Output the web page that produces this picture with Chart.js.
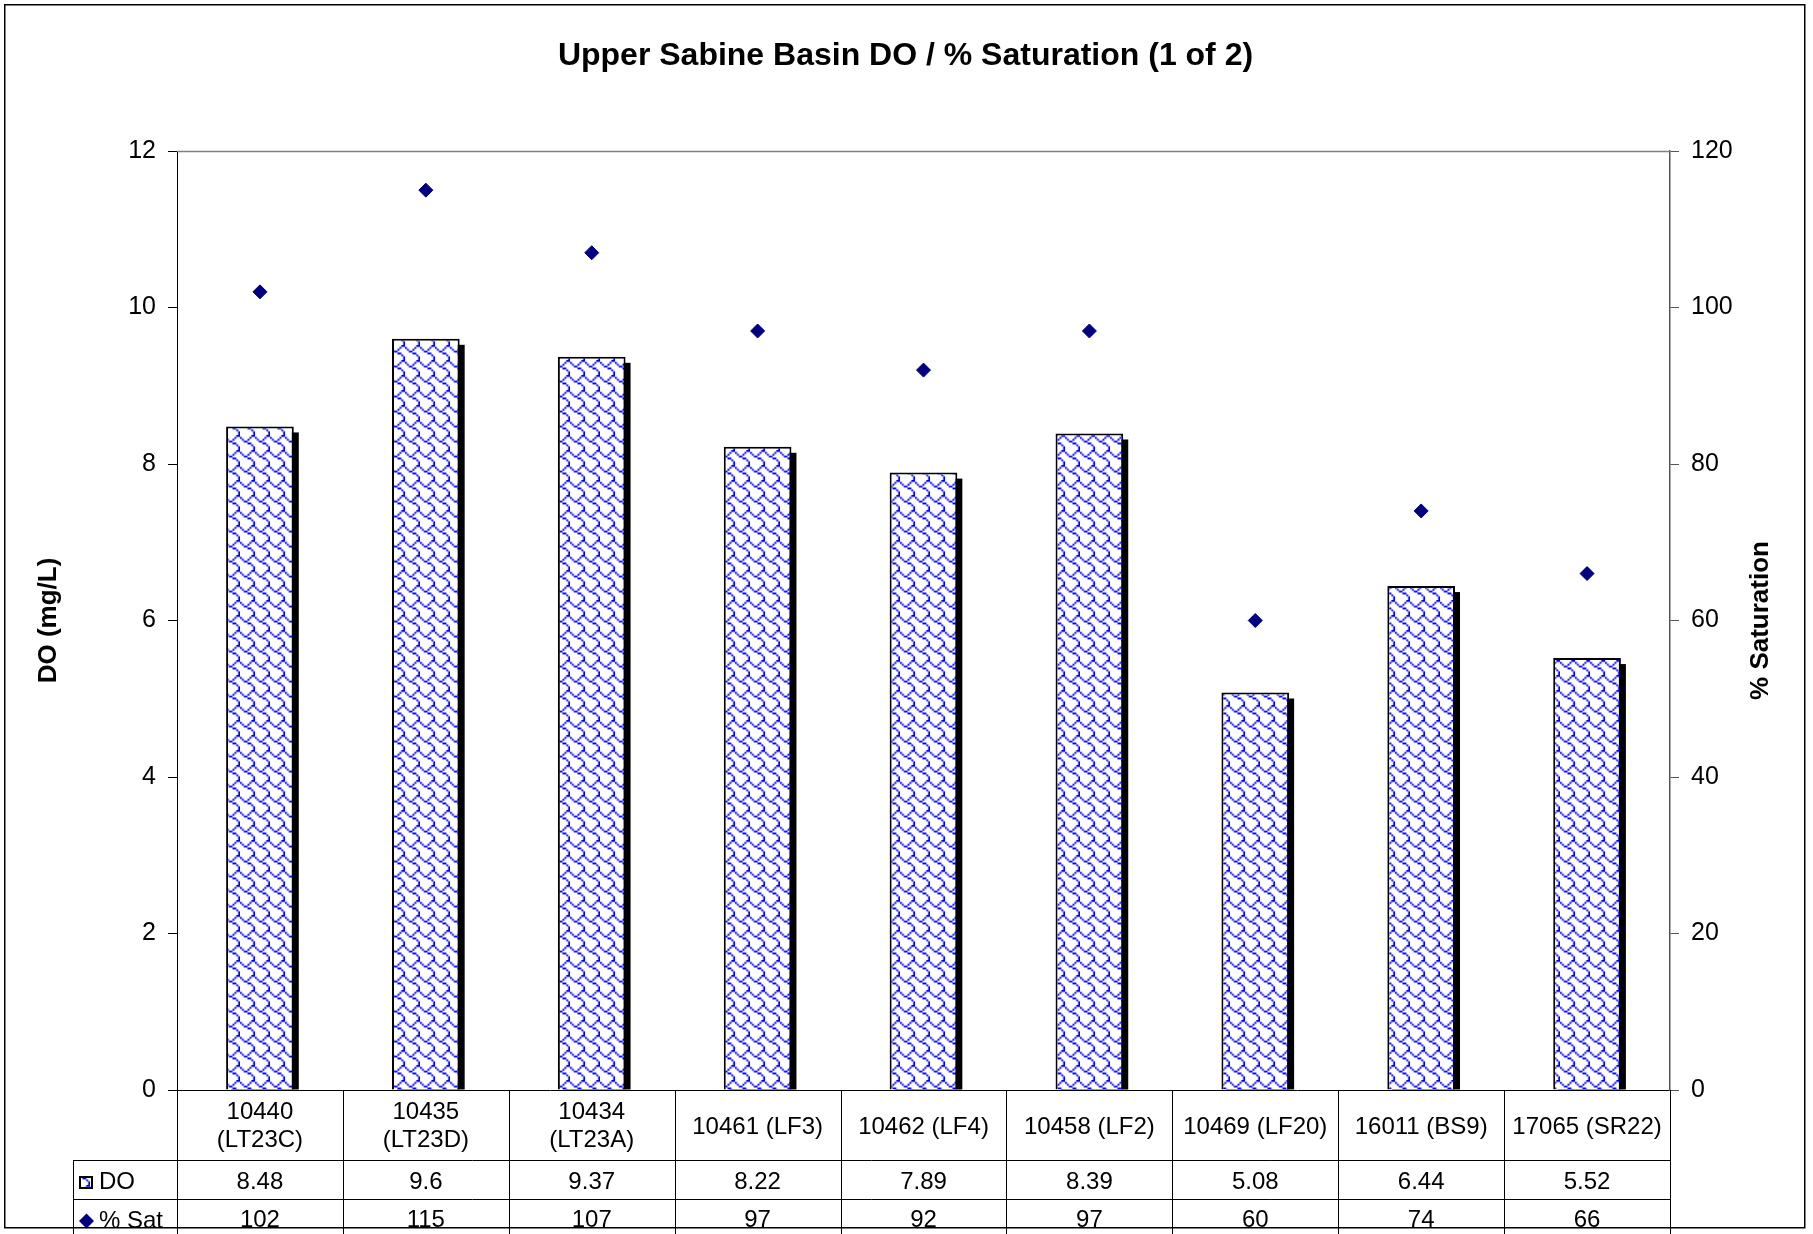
<!DOCTYPE html>
<html><head><meta charset="utf-8">
<script src="https://cdn.jsdelivr.net/npm/chart.js"></script>
<style>html,body{margin:0;padding:0;background:#fff;}canvas{display:block;}</style>
</head><body>
<canvas id="c" width="1813" height="1234"></canvas>
<script>
const chartTitle = 'Upper Sabine Basin DO / % Saturation (1 of 2)';
const leftAxisTitle = 'DO (mg/L)';
const rightAxisTitle = '% Saturation';
const categories = ['10440 (LT23C)','10435 (LT23D)','10434 (LT23A)','10461 (LF3)','10462 (LF4)','10458 (LF2)','10469 (LF20)','16011 (BS9)','17065 (SR22)'];
const seriesNames = ['DO', '% Sat'];
const doValues = [8.48, 9.6, 9.37, 8.22, 7.89, 8.39, 5.08, 6.44, 5.52];
const satValues = [102, 115, 107, 97, 92, 97, 60, 74, 66];
const doTicks = [0, 2, 4, 6, 8, 10, 12];
const satTicks = [0, 20, 40, 60, 80, 100, 120];

const FONT = "'Liberation Sans', Arial, sans-serif";
const canvas = document.getElementById('c');
const ctx = canvas.getContext('2d');

function makePattern(c2d) {
  const bits = [0x03, 0x84, 0x48, 0x30, 0x0c, 0x02, 0x01, 0x01];
  const small = document.createElement('canvas');
  small.width = 8; small.height = 8;
  const sg = small.getContext('2d');
  sg.fillStyle = '#fff'; sg.fillRect(0, 0, 8, 8);
  sg.fillStyle = '#0000ff';
  for (let r = 0; r < 8; r++) for (let k = 0; k < 8; k++) if ((bits[r] >> (7 - k)) & 1) sg.fillRect(k, r, 1, 1);
  const big = document.createElement('canvas');
  big.width = 15; big.height = 15;
  const bg = big.getContext('2d');
  bg.imageSmoothingEnabled = true;
  bg.drawImage(small, 0, 0, 15, 15);
  return c2d.createPattern(big, 'repeat');
}
const pattern = makePattern(ctx);

function wrapText(c, text, maxW) {
  if (c.measureText(text).width <= maxW) return [text];
  const words = text.split(' ');
  const lines = []; let cur = '';
  for (const w of words) {
    const t = cur ? cur + ' ' + w : w;
    if (cur && c.measureText(t).width > maxW) { lines.push(cur); cur = w; } else cur = t;
  }
  if (cur) lines.push(cur);
  return lines;
}

const decor = {
  id: 'decor',
  beforeDraw(chart) {
    const c = chart.ctx;
    c.save(); c.fillStyle = '#fff'; c.fillRect(0, 0, chart.width, chart.height); c.restore();
  },
  beforeDatasetsDraw(chart) {
    const c = chart.ctx, a = chart.chartArea;
    c.save();
    c.strokeStyle = '#808080'; c.lineWidth = 1.5;
    c.beginPath(); c.moveTo(a.left, a.top + 0.5); c.lineTo(a.right, a.top + 0.5); c.stroke();
    c.beginPath(); c.rect(a.left, a.top, a.right - a.left, a.bottom - a.top); c.clip();
    c.fillStyle = '#000';
    const meta = chart.getDatasetMeta(0);
    meta.data.forEach(el => {
      const p = el.getProps(['x', 'y', 'base', 'width'], true);
      c.fillRect(p.x - p.width / 2 + 5, p.y + 6, p.width, p.base - p.y - 6);
    });
    c.restore();
  },
  afterDraw(chart) {
    const c = chart.ctx, a = chart.chartArea;
    const xs = chart.scales.x;
    c.save();
    c.fillStyle = '#000';
    c.font = 'bold 32px ' + FONT;
    c.textAlign = 'center'; c.textBaseline = 'middle';
    c.fillText(chartTitle, (a.left + a.right) / 2 - 18, 56);
    c.font = 'bold 26px ' + FONT;
    c.save(); c.translate(49, (a.top + a.bottom) / 2); c.rotate(-Math.PI / 2); c.fillText(leftAxisTitle, 0, 0); c.restore();
    c.save(); c.translate(1761, (a.top + a.bottom) / 2); c.rotate(-Math.PI / 2); c.fillText(rightAxisTitle, 0, 0); c.restore();

    const n = categories.length;
    const colW = xs.getPixelForValue(1) - xs.getPixelForValue(0);
    const yTop = a.bottom;
    const row1 = yTop + 70, row2 = yTop + 109;
    const legendLeft = 73.5;
    const H = chart.height;
    c.strokeStyle = '#000'; c.lineWidth = 1;
    c.beginPath();
    for (let i = 0; i <= n; i++) {
      const bx = Math.round(xs.getPixelForValue(i) - colW / 2) + 0.5;
      c.moveTo(bx, yTop); c.lineTo(bx, H);
    }
    c.moveTo(legendLeft, row1); c.lineTo(legendLeft, H);
    c.moveTo(legendLeft, row1 + 0.5); c.lineTo(xs.right, row1 + 0.5);
    c.moveTo(legendLeft, row2 + 0.5); c.lineTo(xs.right, row2 + 0.5);
    c.stroke();

    c.font = '24px ' + FONT;
    c.textAlign = 'center'; c.textBaseline = 'middle';
    for (let i = 0; i < n; i++) {
      const cx = xs.getPixelForValue(i);
      const lines = wrapText(c, categories[i], colW - 12);
      if (lines.length === 1) c.fillText(lines[0], cx, yTop + 37);
      else { c.fillText(lines[0], cx, yTop + 22); c.fillText(lines[1], cx, yTop + 50); }
      c.fillText(String(doValues[i]), cx, yTop + 92);
      c.fillText(String(satValues[i]), cx, yTop + 130);
    }
    c.textAlign = 'left';
    c.fillText(seriesNames[0], 99, yTop + 92);
    c.fillText(seriesNames[1], 99, yTop + 131);
    c.fillStyle = pattern; c.fillRect(79, yTop + 86, 14, 13);
    c.strokeStyle = '#000'; c.lineWidth = 2; c.strokeRect(80, yTop + 87, 12, 11);
    c.fillStyle = '#000080';
    const dx = 86.5, dy = yTop + 131;
    c.beginPath(); c.moveTo(dx, dy - 7.5); c.lineTo(dx + 7.5, dy); c.lineTo(dx, dy + 7.5); c.lineTo(dx - 7.5, dy); c.closePath(); c.fill();

    c.strokeStyle = '#000'; c.lineWidth = 1.5;
    c.strokeRect(4.75, 4.75, 1800, 1223);
    c.restore();
  }
};

new Chart(ctx, {
  data: {
    labels: categories,
    datasets: [
      { type: 'bar', label: seriesNames[0], data: doValues, yAxisID: 'y',
        backgroundColor: pattern, borderColor: '#000', borderWidth: 2,
        barPercentage: 0.408, categoryPercentage: 1, order: 1 },
      { type: 'line', label: seriesNames[1], data: satValues, yAxisID: 'y1',
        showLine: false, pointStyle: 'rectRot', pointRadius: 7,
        pointBackgroundColor: '#000080', pointBorderColor: '#000080', pointBorderWidth: 1, order: 0 }
    ]
  },
  options: {
    responsive: false, animation: false, events: [],
    layout: { padding: { left: 0, right: 0, top: 151, bottom: 0 } },
    plugins: { legend: { display: false }, tooltip: { enabled: false }, title: { display: false } },
    scales: {
      x: {
        type: 'category', offset: true,
        ticks: { display: false },
        grid: { display: true, drawOnChartArea: false, drawTicks: false },
        border: { display: true, color: '#000', width: 1 },
        afterFit(s) { s.height = 144; }
      },
      y: {
        position: 'left', min: 0, max: 12,
        afterBuildTicks(s) { s.ticks = doTicks.map(v => ({ value: v })); },
        ticks: { color: '#000', font: { family: FONT, size: 25 }, padding: 12 },
        grid: { drawOnChartArea: false, drawTicks: true, tickLength: 9, color: '#000' },
        border: { display: true, color: '#000', width: 1 },
        afterFit(s) { s.width = 177; }
      },
      y1: {
        position: 'right', min: 0, max: 120,
        afterBuildTicks(s) { s.ticks = satTicks.map(v => ({ value: v })); },
        ticks: { color: '#000', font: { family: FONT, size: 25 }, padding: 12 },
        grid: { drawOnChartArea: false, drawTicks: true, tickLength: 9, color: '#555' },
        border: { display: true, color: '#555', width: 1.5 },
        afterFit(s) { s.width = 143; }
      }
    }
  },
  plugins: [decor]
});
</script>
</body></html>
